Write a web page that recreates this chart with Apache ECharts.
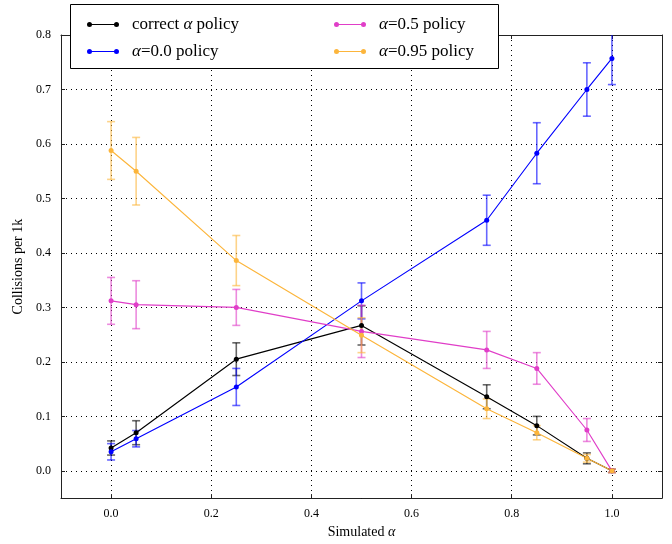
<!DOCTYPE html>
<html>
<head>
<meta charset="utf-8">
<script src="https://cdn.jsdelivr.net/npm/echarts@6/dist/echarts.min.js"></script>
<style>
  html, body { margin: 0; padding: 0; background: #fff; }
  #chart { width: 672px; height: 544px; }
</style>
</head>
<body>
<div id="chart"></div>
<script>
// Simulated alpha values (x positions shared by every policy)
const alphas = [0, 0.05, 0.25, 0.5, 0.75, 0.85, 0.95, 1.0];

// Mean collisions per 1k and the half-width of each error bar
const correctMean = [0.042, 0.070, 0.205, 0.267, 0.136, 0.083, 0.023, 0.000];
const correctErr  = [0.013, 0.022, 0.030, 0.036, 0.022, 0.017, 0.010, 0.003];

const a00Mean = [0.035, 0.059, 0.154, 0.312, 0.460, 0.583, 0.700, 0.757];
const a00Err  = [0.015, 0.015, 0.034, 0.033, 0.046, 0.056, 0.049, 0.048];

const a05Mean = [0.312, 0.305, 0.300, 0.256, 0.222, 0.188, 0.075, 0.000];
const a05Err  = [0.043, 0.044, 0.033, 0.048, 0.034, 0.029, 0.021, 0.003];

const a95Mean = [0.588, 0.550, 0.386, 0.249, 0.114, 0.070, 0.023, 0.000];
const a95Err  = [0.053, 0.062, 0.046, 0.032, 0.018, 0.013, 0.007, 0.003];

const seriesNames = ['correct α policy', 'α=0.0 policy', 'α=0.5 policy', 'α=0.95 policy'];
const seriesColors = ['#000000', '#0000ff', '#e03ec8', '#fcb53b'];

const FONT = '"Liberation Serif", "DejaVu Serif", serif';

const groups = [
  { name: seriesNames[0], color: seriesColors[0], mean: correctMean, err: correctErr },
  { name: seriesNames[1], color: seriesColors[1], mean: a00Mean, err: a00Err },
  { name: seriesNames[2], color: seriesColors[2], mean: a05Mean, err: a05Err },
  { name: seriesNames[3], color: seriesColors[3], mean: a95Mean, err: a95Err }
];

// Error bar: vertical stem with short horizontal caps
function errorBarRenderer(color) {
  return function (params, api) {
    const x = api.value(0);
    const lo = api.coord([x, api.value(1)]);
    const hi = api.coord([x, api.value(2)]);
    const cap = 4;
    const style = { stroke: color, lineWidth: 1.6, opacity: 0.6 };
    return {
      type: 'group',
      children: [
        { type: 'line', shape: { x1: lo[0], y1: lo[1], x2: hi[0], y2: hi[1] }, style: style },
        { type: 'line', shape: { x1: lo[0] - cap, y1: lo[1], x2: lo[0] + cap, y2: lo[1] }, style: style },
        { type: 'line', shape: { x1: hi[0] - cap, y1: hi[1], x2: hi[0] + cap, y2: hi[1] }, style: style }
      ]
    };
  };
}

const series = [];
groups.forEach(g => {
  series.push({
    name: g.name,
    type: 'line',
    data: alphas.map((a, i) => [a, g.mean[i]]),
    color: g.color,
    symbol: 'circle',
    symbolSize: 5,
    showSymbol: true,
    lineStyle: { width: 1.15, color: g.color },
    itemStyle: { color: g.color },
    clip: true,
    z: 3
  });
  series.push({
    name: g.name,
    type: 'custom',
    renderItem: errorBarRenderer(g.color),
    clip: true,
    color: g.color,
    itemStyle: { color: g.color },
    data: alphas.map((a, i) => [a, g.mean[i] - g.err[i], g.mean[i] + g.err[i]]),
    encode: { x: 0, y: [1, 2] },
    silent: true,
    z: 2
  });
});

// Legend icon: a short line with a dot at each end
const legendIcon = 'path://M0,2.5 A2.5,2.5 0 1 1 5,2.5 A2.5,2.5 0 1 1 0,2.5 Z ' +
  'M27,2.5 A2.5,2.5 0 1 1 32,2.5 A2.5,2.5 0 1 1 27,2.5 Z ' +
  'M2.5,2 L29.5,2 L29.5,3 L2.5,3 Z';

function legendText(name) {
  return '{s|}' + name.replace('α', '{i|α}');
}

const legendBase = {
  orient: 'vertical',
  icon: legendIcon,
  itemWidth: 32,
  itemHeight: 5,
  itemGap: 10,
  top: 11,
  z: 20,
  formatter: legendText,
  selectedMode: false,
  textStyle: {
    fontFamily: FONT,
    fontSize: 17,
    color: '#000',
    rich: {
      s: { width: 8 },
      i: { fontStyle: 'italic', fontFamily: FONT, fontSize: 17 }
    }
  }
};

const dottedGrid = { show: true, lineStyle: { color: '#000', type: [1, 4], width: 1 } };
const frameLine = { show: true, onZero: false, lineStyle: { color: '#222', width: 1 } };

const option = {
  backgroundColor: '#fff',
  animation: false,
  grid: { left: 61, right: 10, top: 35, bottom: 42, containLabel: false },
  legend: [
    Object.assign({}, legendBase, { left: 82, data: [seriesNames[0], seriesNames[1]] }),
    Object.assign({}, legendBase, { left: 329, data: [seriesNames[2], seriesNames[3]] })
  ],
  graphic: [{
    type: 'rect',
    left: 70, top: 4,
    shape: { width: 428, height: 64 },
    style: { fill: '#fff', stroke: '#000', lineWidth: 1 },
    z: 15
  }],
  xAxis: [{
    type: 'value',
    min: -0.1, max: 1.1, splitNumber: 6,
    axisLine: frameLine,
    axisTick: { show: true, inside: true, length: 4, lineStyle: { color: '#222' } },
    splitLine: dottedGrid,
    axisLabel: {
      showMinLabel: false, showMaxLabel: false,
      formatter: v => v.toFixed(1),
      fontFamily: FONT, fontSize: 12, color: '#000', margin: 10
    },
    name: 'Simulated {i|α}',
    nameLocation: 'middle',
    nameGap: 25,
    nameTextStyle: {
      fontFamily: FONT, fontSize: 14, color: '#000',
      rich: { i: { fontStyle: 'italic', fontFamily: FONT, fontSize: 14 } }
    }
  }, {
    type: 'value', position: 'top',
    min: -0.1, max: 1.1, splitNumber: 6,
    axisLine: frameLine,
    axisTick: { show: true, inside: true, length: 4, lineStyle: { color: '#222' } },
    splitLine: { show: false },
    axisLabel: { show: false }
  }],
  yAxis: [{
    type: 'value',
    min: -0.05, max: 0.8, splitNumber: 8,
    axisLine: frameLine,
    axisTick: { show: true, inside: true, length: 4, lineStyle: { color: '#222' } },
    splitLine: dottedGrid,
    axisLabel: {
      showMinLabel: false,
      formatter: v => v.toFixed(1),
      fontFamily: FONT, fontSize: 12, color: '#000', margin: 10
    },
    name: 'Collisions per 1k',
    nameLocation: 'middle',
    nameGap: 34,
    nameTextStyle: { fontFamily: FONT, fontSize: 14, color: '#000' }
  }, {
    type: 'value', position: 'right',
    min: -0.05, max: 0.8, splitNumber: 8,
    axisLine: frameLine,
    axisTick: { show: true, inside: true, length: 4, lineStyle: { color: '#222' } },
    splitLine: { show: false },
    axisLabel: { show: false }
  }],
  series: series
};

const chart = echarts.init(document.getElementById('chart'), null, { renderer: 'canvas' });
chart.setOption(option);
</script>
</body>
</html>
